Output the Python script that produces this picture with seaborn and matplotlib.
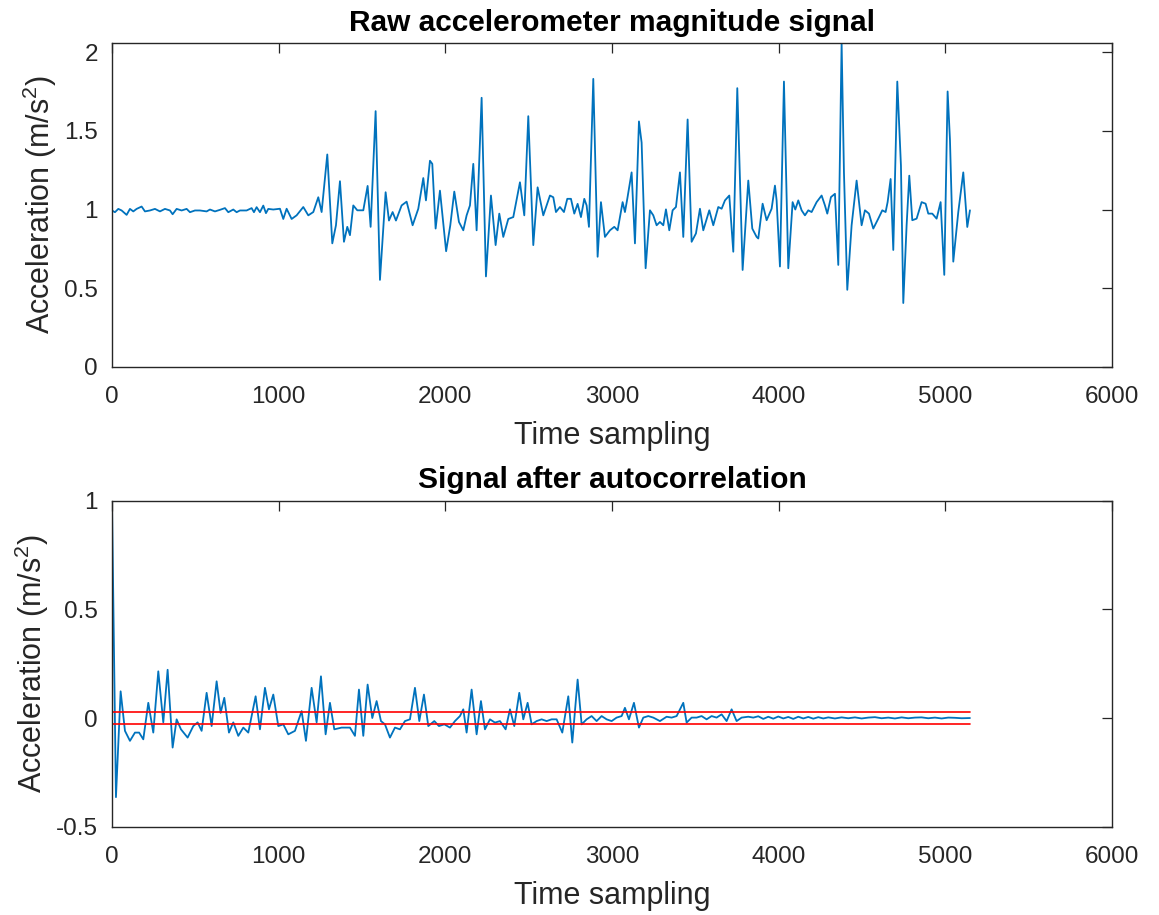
import numpy as np
import pandas as pd
import matplotlib
matplotlib.use("Agg")
import matplotlib.pyplot as plt
import seaborn as sns
from matplotlib.ticker import FuncFormatter

# ---------------- data ----------------
raw_x = [0, 18, 38, 58, 88, 108, 128, 148, 178, 198, 228, 258, 288, 318, 348, 364, 388, 418, 448, 468,
         498, 528, 568, 588, 618, 648, 678, 698, 728, 748, 768, 808, 838, 852, 868, 888, 908, 924, 938, 968,
         998, 1008, 1028, 1048, 1078, 1108, 1148, 1178, 1208, 1238, 1258, 1292, 1322, 1344, 1368, 1392, 1412,
         1428, 1448, 1472, 1508, 1534, 1552, 1582, 1608, 1642, 1662, 1684, 1704, 1738, 1768, 1804, 1838, 1868,
         1884, 1908, 1922, 1942, 1968, 2005, 2030, 2054, 2082, 2108, 2128, 2148, 2168, 2188, 2218, 2244, 2274,
         2302, 2324, 2348, 2378, 2408, 2448, 2474, 2498, 2528, 2554, 2588, 2628, 2648, 2664, 2688, 2712, 2732,
         2754, 2774, 2794, 2814, 2834, 2848, 2862, 2888, 2914, 2934, 2958, 2988, 3014, 3034, 3064, 3078, 3092,
         3118, 3138, 3162, 3178, 3202, 3228, 3248, 3268, 3288, 3308, 3324, 3344, 3364, 3384, 3408, 3428, 3454,
         3478, 3504, 3528, 3548, 3584, 3608, 3638, 3658, 3678, 3704, 3728, 3752, 3784, 3818, 3842, 3868, 3878,
         3904, 3928, 3958, 3978, 3988, 4008, 4032, 4058, 4084, 4100, 4118, 4138, 4158, 4178, 4198, 4228, 4258,
         4278, 4292, 4314, 4338, 4358, 4378, 4392, 4412, 4438, 4468, 4498, 4518, 4542, 4568, 4598, 4622, 4642,
         4654, 4672, 4688, 4712, 4734, 4748, 4768, 4784, 4802, 4828, 4858, 4882, 4898, 4922, 4948, 4972, 4994,
         5014, 5028, 5048, 5078, 5108, 5132, 5148]
raw_y = [0.994, 0.983, 1.004, 0.994, 0.966, 1.004, 0.988, 1.004, 1.019, 0.988, 0.994, 1.004, 0.988, 1.004,
         0.994, 0.970, 1.004, 0.994, 1.004, 0.983, 0.994, 0.994, 0.988, 1.000, 0.988, 0.998, 1.009, 0.983,
         1.000, 0.983, 0.994, 0.994, 1.009, 0.983, 1.015, 0.983, 1.025, 0.977, 1.004, 1.000, 1.004, 1.005,
         0.94, 1.005, 0.94, 0.963, 1.016, 0.963, 0.984, 1.078, 0.984, 1.35, 0.785, 0.90, 1.18, 0.795, 0.89,
         0.837, 1.026, 0.995, 0.995, 1.15, 0.89, 1.625, 0.553, 1.11, 0.93, 0.984, 0.93, 1.026, 1.05, 0.90,
         1.005, 1.20, 1.058, 1.31, 1.29, 0.879, 1.12, 0.735, 0.90, 1.114, 0.921, 0.868, 0.963, 1.026, 1.29,
         0.868, 1.71, 0.575, 1.089, 0.774, 0.974, 0.826, 0.94, 0.952, 1.173, 0.963, 1.593, 0.774, 1.141,
         0.963, 1.089, 1.078, 0.984, 1.016, 0.984, 1.068, 1.068, 0.974, 1.036, 0.952, 1.068, 1.026, 0.89,
         1.83, 0.70, 1.047, 0.826, 0.868, 0.89, 0.868, 1.047, 0.984, 1.068, 1.236, 0.785, 1.56, 1.425, 0.627,
         0.995, 0.963, 0.90, 0.921, 0.90, 1.001, 0.868, 0.995, 1.016, 1.236, 0.826, 1.572, 0.795, 0.848,
         1.005, 0.868, 0.995, 0.90, 1.016, 1.005, 1.058, 1.089, 0.732, 1.771, 0.616, 1.184, 0.879, 0.826,
         0.816, 1.037, 0.932, 1.005, 1.152, 1.058, 0.638, 1.813, 0.627, 1.047, 1.00, 1.058, 0.995, 0.963,
         0.995, 0.984, 1.047, 1.089, 1.026, 0.974, 1.079, 1.10, 0.648, 2.058, 1.236, 0.49, 0.90, 1.184, 0.90,
         0.995, 0.974, 0.879, 0.942, 0.995, 0.984, 1.047, 1.194, 0.743, 1.813, 1.278, 0.406, 0.90, 1.215,
         0.932, 0.942, 1.047, 1.037, 0.974, 0.974, 0.942, 1.047, 0.585, 1.75, 1.446, 0.669, 0.984, 1.236,
         0.889, 0.995]

acf_x = [0, 24, 52, 78, 108, 138, 163, 188, 218, 248, 278, 308, 334, 364, 388, 414, 454, 488, 514, 538, 568,
         598, 628, 652, 674, 702, 728, 758, 788, 818, 862, 888, 918, 942, 968, 998, 1028, 1058, 1098, 1138,
         1164, 1198, 1228, 1254, 1282, 1308, 1334, 1378, 1428, 1458, 1482, 1508, 1534, 1562, 1588, 1614, 1638,
         1668, 1698, 1728, 1758, 1788, 1818, 1844, 1872, 1898, 1934, 1962, 1994, 2028, 2058, 2088, 2108, 2128,
         2158, 2188, 2214, 2238, 2268, 2298, 2328, 2362, 2388, 2414, 2444, 2468, 2494, 2518, 2548, 2578, 2608,
         2638, 2668, 2702, 2738, 2762, 2794, 2818, 2848, 2878, 2908, 2938, 2968, 2998, 3028, 3058, 3078, 3102,
         3132, 3162, 3188, 3218, 3248, 3288, 3328, 3358, 3388, 3428, 3448, 3478, 3508, 3538, 3568, 3598, 3628,
         3658, 3688, 3718, 3748, 3778, 3818, 3848, 3878, 3908, 3938, 3968, 3998, 4028, 4058, 4088, 4118, 4148,
         4178, 4208, 4238, 4268, 4298, 4338, 4378, 4418, 4458, 4498, 4538, 4578, 4618, 4658, 4698, 4738, 4778,
         4818, 4858, 4898, 4938, 4978, 5018, 5058, 5098, 5148]
acf_y = [1.0, -0.364, 0.123, -0.059, -0.105, -0.067, -0.067, -0.098, 0.07, -0.067, 0.215, -0.02, 0.222,
         -0.136, -0.006, -0.052, -0.09, -0.037, -0.02, -0.059, 0.116, -0.037, 0.169, 0.024, 0.093, -0.067,
         -0.02, -0.082, -0.044, -0.067, 0.10, -0.052, 0.139, 0.04, 0.108, -0.037, -0.029, -0.075, -0.059,
         0.032, -0.105, 0.139, -0.02, 0.192, -0.075, 0.07, -0.052, -0.044, -0.044, -0.082, 0.131, -0.082,
         0.154, 0.0, 0.078, -0.014, -0.029, -0.09, -0.044, -0.052, -0.014, -0.006, 0.139, -0.014, 0.108,
         -0.037, -0.014, -0.037, -0.029, -0.044, -0.014, 0.009, 0.04, -0.067, 0.131, -0.075, 0.078, -0.052,
         -0.006, -0.021, -0.014, -0.052, 0.04, -0.037, 0.116, -0.006, 0.07, -0.029, -0.014, -0.006, -0.014,
         -0.006, -0.006, -0.067, 0.10, -0.113, 0.177, -0.029, -0.006, 0.009, -0.014, 0.009, -0.006, -0.014,
         0.002, 0.009, 0.047, -0.006, 0.07, -0.044, 0.002, 0.009, 0.002, -0.014, 0.006, 0.002, 0.009, 0.07,
         -0.021, 0.002, 0.002, 0.009, -0.006, 0.009, 0.002, 0.017, -0.014, 0.04, -0.014, 0.002, 0.006, 0.002,
         0.008, -0.004, 0.006, -0.003, 0.007, -0.002, 0.005, -0.004, 0.006, -0.002, 0.005, -0.003, 0.004,
         -0.002, 0.003, -0.002, 0.003, -0.001, 0.003, -0.002, 0.002, 0.004, -0.001, 0.002, -0.002, 0.003,
         -0.001, 0.002, 0.003, -0.001, 0.002, -0.002, 0.002, 0.001, -0.001, 0.0]

bound_x = [0, 5148]
bound_level = 0.0279

titles = ["Raw accelerometer magnitude signal", "Signal after autocorrelation"]
xlabel = "Time sampling"
ylabel = r"Acceleration (m/s$^{2}$)"
xticks = [0, 1000, 2000, 3000, 4000, 5000, 6000]
top_yticks = [0, 0.5, 1, 1.5, 2]
bot_yticks = [-0.5, 0, 0.5, 1]

# ---------------- style ----------------
sns.set_style("white")
plt.rcParams["font.family"] = ["Liberation Sans", "DejaVu Sans"]
plt.rcParams["mathtext.fontset"] = "custom"
plt.rcParams["mathtext.rm"] = "Liberation Sans"
plt.rcParams["mathtext.it"] = "Liberation Sans:italic"
plt.rcParams["mathtext.bf"] = "Liberation Sans:bold"

TXT = "#262626"
BLUE = "#0072BD"

fig = plt.figure(figsize=(11.59, 9.15), dpi=100)
ax1 = fig.add_axes([0.0966, 0.599, 0.8628, 0.354])
ax2 = fig.add_axes([0.0966, 0.0965, 0.8628, 0.3563])

df_raw = pd.DataFrame({"x": raw_x, "y": raw_y})
df_acf = pd.DataFrame({"x": acf_x, "y": acf_y})

sns.lineplot(data=df_raw, x="x", y="y", ax=ax1, color=BLUE, lw=1.3, sort=False, estimator=None)
sns.lineplot(data=df_acf, x="x", y="y", ax=ax2, color=BLUE, lw=1.3, sort=False, estimator=None)
for lvl in (bound_level, -bound_level):
    sns.lineplot(x=bound_x, y=[lvl, lvl], ax=ax2, color="#FF0000", lw=1.2, estimator=None)

fmt = FuncFormatter(lambda v, p: "%g" % v)
for ax, title, yt, ylim in ((ax1, titles[0], top_yticks, (0, 2.058)),
                            (ax2, titles[1], bot_yticks, (-0.5, 1))):
    ax.set_xlim(0, 6000)
    ax.set_ylim(*ylim)
    ax.set_xticks(xticks)
    ax.set_yticks(yt)
    ax.xaxis.set_major_formatter(fmt)
    ax.yaxis.set_major_formatter(fmt)
    ax.tick_params(direction="in", length=7, width=0.9, color=TXT, labelcolor=TXT,
                   labelsize=17.5, top=True, right=True)
    ax.tick_params(axis="x", pad=14)
    ax.tick_params(axis="y", pad=10)
    for s in ax.spines.values():
        s.set_visible(True)
        s.set_color(TXT)
        s.set_linewidth(1.0)
    ax.set_xlabel(xlabel, fontsize=22, color=TXT, labelpad=9)
    ax.set_ylabel(ylabel, fontsize=22, color=TXT, labelpad=4)
    ax.set_title(title, fontsize=21.5, fontweight="bold", color="black", pad=9)
    ax.set_facecolor("white")

fig.savefig("out.png", dpi=100, facecolor="white")
